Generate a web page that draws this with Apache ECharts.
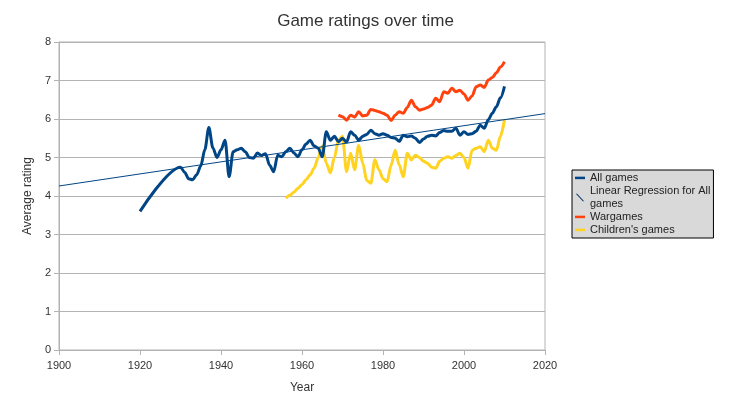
<!DOCTYPE html>
<html>
<head>
<meta charset="utf-8">
<script src="https://cdn.jsdelivr.net/npm/echarts@6/dist/echarts.min.js"></script>
<style>
  html, body { margin: 0; padding: 0; background: #fff; }
  #chart { width: 731px; height: 411px; }
</style>
</head>
<body>
<div id="chart"></div>
<script>
// data
var allYears = [1920, 1930, 1931, 1932, 1933, 1934, 1935, 1936, 1937, 1938, 1939, 1940, 1941, 1942, 1943, 1944,
  1945, 1946, 1947, 1948, 1949, 1950, 1951, 1952, 1953, 1954, 1955, 1956, 1957, 1958, 1959, 1960, 1961, 1962,
  1963, 1964, 1965, 1966, 1967, 1968, 1969, 1970, 1971, 1972, 1973, 1974, 1975, 1976, 1977, 1978, 1979, 1980,
  1981, 1982, 1983, 1984, 1985, 1986, 1987, 1988, 1989, 1990, 1991, 1992, 1993, 1994, 1995, 1996, 1997, 1998,
  1999, 2000, 2001, 2002, 2003, 2004, 2005, 2006, 2007, 2008, 2009, 2010];
var allRatings = [3.60, 4.75, 4.62, 4.45, 4.42, 4.55, 4.78, 5.2, 5.78, 5.25, 5.0, 5.2, 5.45, 4.5, 5.15, 5.2,
  5.24, 5.15, 5.0, 4.98, 5.12, 5.05, 5.1, 4.8, 4.63, 5.06, 5.02, 5.15, 5.24, 5.12, 5.02, 5.2, 5.35, 5.45,
  5.3, 5.24, 5.02, 5.67, 5.45, 5.55, 5.41, 5.5, 5.4, 5.67, 5.58, 5.45, 5.55, 5.6, 5.71, 5.62, 5.58, 5.62,
  5.58, 5.52, 5.5, 5.42, 5.58, 5.54, 5.56, 5.5, 5.39, 5.48, 5.55, 5.58, 5.56, 5.65, 5.7, 5.68, 5.68, 5.76,
  5.58, 5.67, 5.6, 5.62, 5.68, 5.84, 5.76, 5.98, 6.15, 6.32, 6.55, 6.85];

var regYears = [1900, 2020];
var regRatings = [4.26, 6.14];

var warYears = [1969, 1970, 1971, 1972, 1973, 1974, 1975, 1976, 1977, 1978, 1979, 1980, 1981, 1982, 1983, 1984,
  1985, 1986, 1987, 1988, 1989, 1990, 1991, 1992, 1993, 1994, 1995, 1996, 1997, 1998, 1999, 2000, 2001, 2002,
  2003, 2004, 2005, 2006, 2007, 2008, 2009, 2010];
var warRatings = [6.1, 6.06, 5.97, 6.1, 6.05, 6.19, 6.08, 6.1, 6.25, 6.22, 6.19, 6.15, 6.1, 5.96, 6.1, 6.19,
  6.15, 6.3, 6.49, 6.32, 6.23, 6.26, 6.3, 6.36, 6.54, 6.45, 6.71, 6.67, 6.8, 6.71, 6.75, 6.65, 6.49, 6.6,
  6.84, 6.88, 6.82, 7.01, 7.08, 7.2, 7.35, 7.49];

var kidYears = [1956, 1957, 1958, 1959, 1960, 1961, 1962, 1963, 1964, 1965, 1966, 1967, 1968, 1969, 1970, 1971,
  1972, 1973, 1974, 1975, 1976, 1977, 1978, 1979, 1980, 1981, 1982, 1983, 1984, 1985, 1986, 1987, 1988, 1989,
  1990, 1991, 1992, 1993, 1994, 1995, 1996, 1997, 1998, 1999, 2000, 2001, 2002, 2003, 2004, 2005, 2006, 2007,
  2008, 2009, 2010];
var kidRatings = [3.94, 4.02, 4.1, 4.2, 4.3, 4.42, 4.55, 4.72, 5.0, 5.3, 4.85, 4.6, 5.0, 5.45, 5.55, 4.63,
  5.11, 4.68, 5.32, 4.85, 4.4, 4.33, 4.94, 4.68, 4.45, 4.37, 4.8, 5.19, 4.81, 4.5, 5.11, 4.94, 5.06, 5.0,
  4.9, 4.85, 4.75, 4.72, 4.9, 4.98, 5.02, 4.98, 5.05, 5.11, 5.0, 4.72, 5.19, 5.24, 5.28, 5.15, 5.45, 5.24,
  5.19, 5.55, 5.99];

var seriesNames = ['All games', 'Linear Regression for All\ngames', 'Wargames', "Children's games"];

function pairs(xs, ys) {
  return xs.map(function (x, i) { return [x, ys[i]]; });
}

// legend icons: the extra M points keep the box tall so bars stay thin
var barIcon = 'path://M0,0 M12,10 M0,4 L12,4 L12,7 L0,7 Z';
var slashIcon = 'path://M0,0 M12,10 M1,1 L2.6,1 L11,10 L9.4,10 Z';

var font = 'Liberation Sans';
var myChart = echarts.init(document.getElementById('chart'));

var option = {
  animation: false,
  title: {
    text: 'Game ratings over time',
    left: 'center',
    top: 8,
    textStyle: { fontFamily: font, fontSize: 17, fontWeight: 'normal', color: '#333' }
  },
  grid: {
    left: 59, right: 186, top: 42, bottom: 61,
    show: true, borderColor: '#b3b3b3', borderWidth: 1
  },
  legend: {
    orient: 'vertical',
    left: 572, top: 170,
    padding: [1, 3, 2, 3],
    itemGap: 0,
    itemWidth: 10, itemHeight: 10,
    backgroundColor: '#d9d9d9',
    borderColor: '#000', borderWidth: 1,
    textStyle: { fontFamily: font, fontSize: 11, color: '#222', lineHeight: 13 },
    data: [
      { name: seriesNames[0], icon: barIcon },
      { name: seriesNames[1], icon: slashIcon, itemStyle: { color: '#003366' } },
      { name: seriesNames[2], icon: barIcon },
      { name: seriesNames[3], icon: barIcon }
    ]
  },
  xAxis: {
    type: 'value',
    min: 1900, max: 2020, interval: 20,
    name: 'Year', nameLocation: 'middle', nameGap: 32,
    nameTextStyle: { fontFamily: font, fontSize: 12, color: '#333' },
    splitLine: { show: false },
    axisLine: { lineStyle: { color: '#b3b3b3' } },
    axisTick: { length: 5, lineStyle: { color: '#b3b3b3' } },
    axisLabel: { fontFamily: font, fontSize: 11, color: '#333', margin: 10, formatter: function (v) { return String(v); } }
  },
  yAxis: {
    type: 'value',
    min: 0, max: 8, interval: 1,
    name: 'Average rating', nameLocation: 'middle', nameGap: 25,
    nameTextStyle: { fontFamily: font, fontSize: 12, color: '#333' },
    splitLine: { lineStyle: { color: '#b3b3b3' } },
    axisLine: { show: true, lineStyle: { color: '#b3b3b3' } },
    axisTick: { show: true, length: 5, lineStyle: { color: '#b3b3b3' } },
    axisLabel: { fontFamily: font, fontSize: 11, color: '#333', margin: 8 }
  },
  series: [
    {
      name: seriesNames[0], type: 'line', smooth: 0.3, smoothMonotone: 'x', symbol: 'none',
      data: pairs(allYears, allRatings), z: 3,
      lineStyle: { width: 3, color: '#004586' }, itemStyle: { color: '#004586' }
    },
    {
      name: seriesNames[1], type: 'line', symbol: 'none',
      data: pairs(regYears, regRatings), z: 5,
      lineStyle: { width: 1, color: '#004586' }, itemStyle: { color: '#004586' }
    },
    {
      name: seriesNames[2], type: 'line', smooth: 0.3, smoothMonotone: 'x', symbol: 'none',
      data: pairs(warYears, warRatings), z: 2,
      lineStyle: { width: 3, color: '#ff420e' }, itemStyle: { color: '#ff420e' }
    },
    {
      name: seriesNames[3], type: 'line', smooth: 0.3, smoothMonotone: 'x', symbol: 'none',
      data: pairs(kidYears, kidRatings), z: 2,
      lineStyle: { width: 3, color: '#ffd320' }, itemStyle: { color: '#ffd320' }
    }
  ]
};

myChart.setOption(option);
</script>
</body>
</html>
